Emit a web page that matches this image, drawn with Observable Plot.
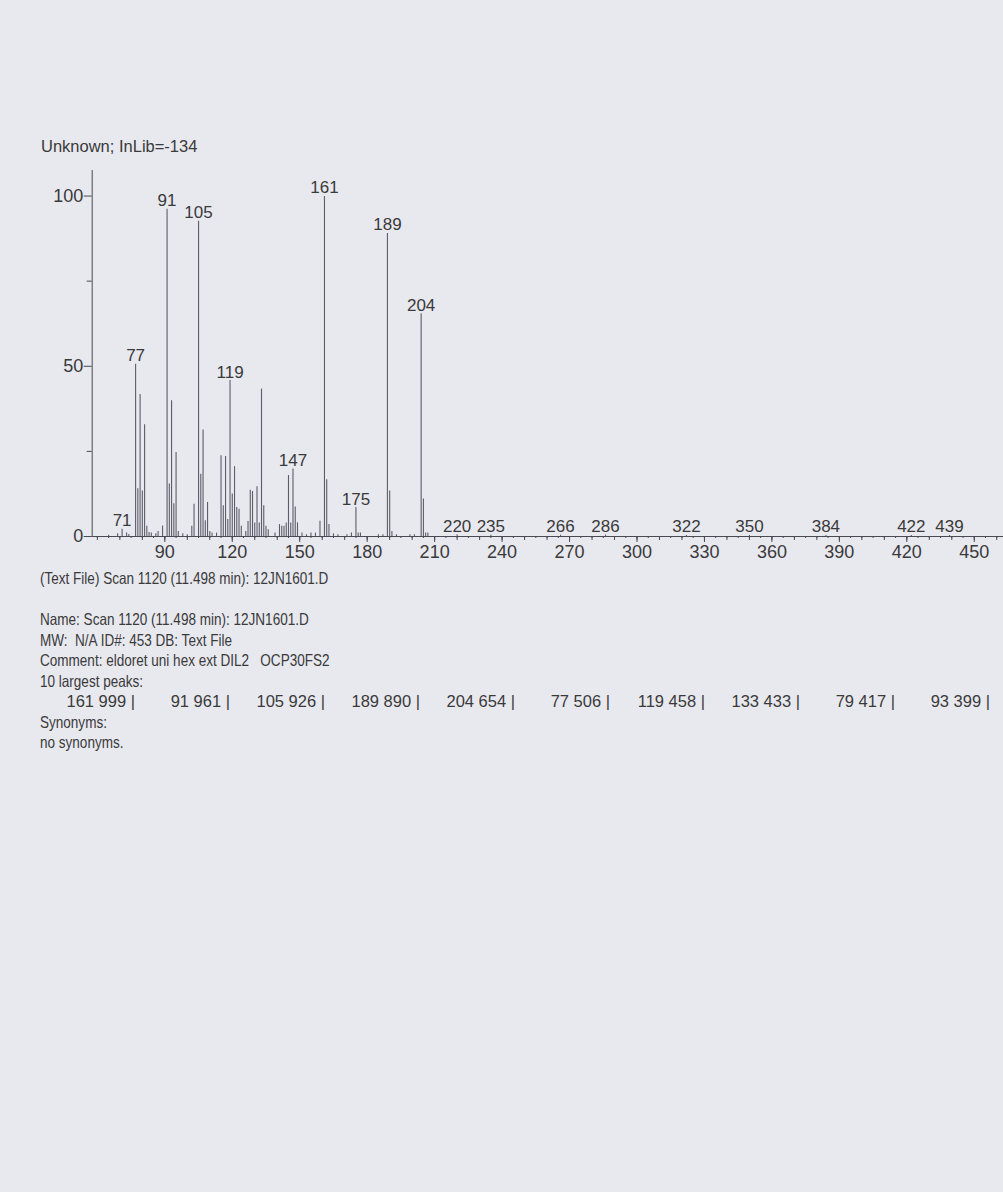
<!DOCTYPE html>
<html><head><meta charset="utf-8">
<script src="https://cdn.jsdelivr.net/npm/d3@7"></script>
<script src="https://cdn.jsdelivr.net/npm/@observablehq/plot@0.6"></script>
<style>
body{margin:0;background:#e8e8ef;width:1003px;height:1192px;position:relative;overflow:hidden;font-family:"Liberation Sans",Arial,sans-serif;color:#3a3a3a;}
#title{position:absolute;left:41px;top:136px;font-size:16.5px;line-height:20px;}
#chart{position:absolute;left:0;top:160px;}
#info{position:absolute;left:40px;top:568px;font-size:16.5px;line-height:20.5px;width:960px;}
#info div{height:20.5px;white-space:pre;}
#info div.cond{transform:scaleX(0.82);transform-origin:0 50%;}
#peaksRow{display:grid;grid-template-columns:repeat(10,95px);margin-left:0;}
#peaksRow span{text-align:right;white-space:pre;font-size:16.5px;}
</style></head><body>
<div id="title"></div>
<div id="chart"></div>
<div id="info"></div>
<script>
// m/z values and relative abundance (0-100)
const mz = [65,69,71,73,74,77,78,79,80,81,82,83,84,86,87,89,91,92,93,94,95,96,98,100,102,103,105,106,107,108,109,110,111,113,115,116,117,118,119,120,121,122,123,124,126,127,128,129,130,131,132,133,134,135,136,139,141,142,143,144,145,146,147,148,149,151,153,155,157,159,161,162,163,165,167,171,173,175,176,177,185,187,189,190,191,193,199,201,204,205,206,207,220,235,266,286,322,350,384,422,439];
const intensity = [0.4,0.8,2.1,1.0,0.6,50.6,14.0,41.7,13.4,32.8,3.0,1.2,1.0,0.8,1.5,3.1,96.1,15.4,39.9,9.6,24.7,1.5,0.8,0.5,3.0,9.5,92.6,18.3,31.3,4.6,10.0,1.5,1.0,1.0,23.7,9.0,23.5,5.0,45.8,12.5,20.5,8.5,8.0,3.0,1.5,4.4,13.6,13.2,4.0,14.6,4.0,43.3,9.0,3.0,2.0,1.0,3.5,3.0,3.0,4.0,17.9,4.0,19.8,8.7,4.0,1.0,0.5,1.0,1.0,4.5,99.9,16.7,3.5,0.8,0.5,0.5,1.0,8.5,1.0,1.0,0.5,0.5,89.0,13.4,1.5,0.5,0.5,0.5,65.4,11.0,1.0,1.0,0.5,0.4,0.4,0.4,0.3,0.3,0.3,0.3,0.3];
const labelMz = [71,77,91,105,119,147,161,175,189,204,220,235,266,286,322,350,384,422,439];
const yTicks = [0,50,100];
const yMinor = [25,75];
const xTicks = [90,120,150,180,210,240,270,300,330,360,390,420,450];
const titleText = "Unknown; InLib=-134";
const scanText = "(Text File) Scan 1120 (11.498 min): 12JN1601.D";
const nameText = "Name: Scan 1120 (11.498 min): 12JN1601.D";
const mwText = "MW:  N/A ID#: 453 DB: Text File";
const commentText = "Comment: eldoret uni hex ext DIL2   OCP30FS2";
const largestMz = [161,91,105,189,204,77,119,133,79,93];
const largestAbund = [999,961,926,890,654,506,458,433,417,399];

const peaks = mz.map((m, i) => ({mz: m, y: intensity[i]}));
const labels = labelMz.map(m => peaks.find(p => p.mz === m));

const ink = "#4a4a55";
const chart = Plot.plot({
  width: 1003, height: 406,
  marginLeft: 91.7, marginRight: 0, marginTop: 10, marginBottom: 30,
  x: {domain: [57.7, 463]},
  y: {domain: [0, 107.5]},
  style: {background: "transparent", fontFamily: "'Liberation Sans', Arial, sans-serif", color: "#3a3a3a", fontSize: "17px"},
  marks: [
    Plot.ruleX(peaks, {x: "mz", y1: 0, y2: "y", stroke: "#5d5d6a", strokeWidth: 1.1}),
    Plot.text(labels, {x: "mz", y: "y", text: d => String(d.mz), lineAnchor: "bottom", dy: -3, fontSize: 17, fill: "#3a3a3a"}),
    Plot.frame({anchor: "left", stroke: ink}),
    Plot.ruleY([0], {stroke: ink}),
    Plot.axisY({ticks: yTicks, tickSize: 8, tickPadding: 1, fontSize: 18, stroke: ink, label: null}),
    Plot.axisY({ticks: yMinor, tickSize: 5, tickFormat: () => "", stroke: ink, label: null}),
    Plot.axisX({ticks: xTicks, tickSize: 6, tickPadding: 3, fontSize: 18, stroke: ink, label: null}),
    Plot.axisX({ticks: d3.range(60, 461, 10), tickSize: 4, tickFormat: () => "", stroke: ink, label: null}),
    Plot.axisX({ticks: d3.range(60, 461, 5), tickSize: 2, tickFormat: () => "", stroke: ink, label: null})
  ]
});
document.getElementById("chart").appendChild(chart);
document.getElementById("title").textContent = titleText;

const info = document.getElementById("info");
function line(t) { const d = document.createElement("div"); d.className = "cond"; d.textContent = t; info.appendChild(d); return d; }
line(scanText);
line("");
line(nameText);
line(mwText);
line(commentText);
line("10 largest peaks:");
const row = document.createElement("div");
row.id = "peaksRow";
largestMz.forEach((m, i) => {
  const s = document.createElement("span");
  s.textContent = m + " " + largestAbund[i] + " |";
  row.appendChild(s);
});
info.appendChild(row);
line("Synonyms:");
line("no synonyms.");
</script>
</body></html>
